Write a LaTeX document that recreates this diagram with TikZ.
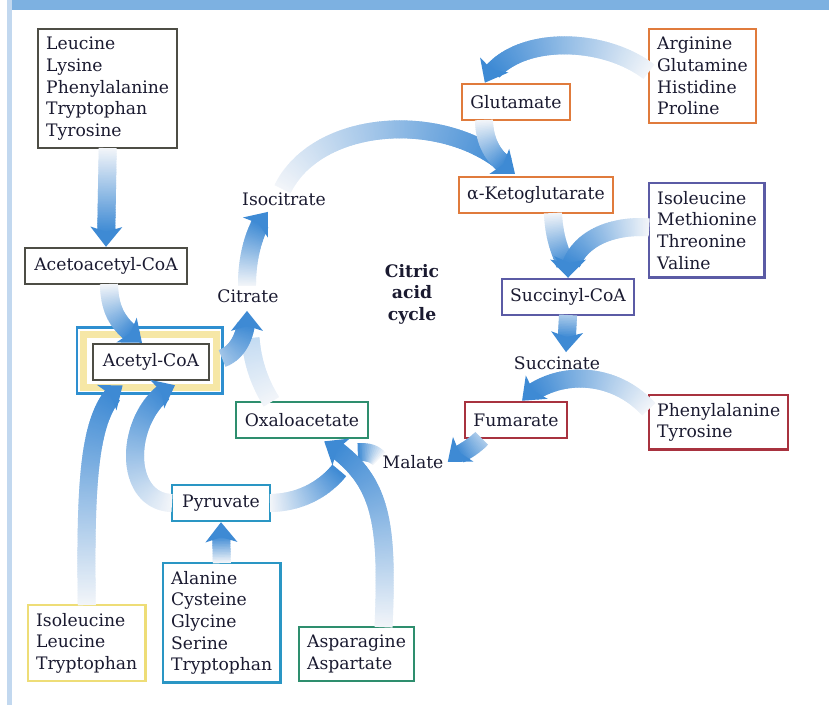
\documentclass[tikz,border=0pt]{standalone}
\usepackage{fontspec}
\setmainfont{DejaVu Serif}
\usetikzlibrary{calc,decorations.markings,backgrounds}

\definecolor{barblue}{HTML}{7DB1E1}
\definecolor{stripblue}{HTML}{C2D8EF}
\definecolor{flowblue}{HTML}{3E8AD4}
\definecolor{flowpale}{HTML}{F2F5F9}
\colorlet{cyclepale}{flowblue!30}
\definecolor{txtdark}{HTML}{1A1A30}
\definecolor{boxgray}{HTML}{4D4D45}
\definecolor{boxyellow}{HTML}{EEDD77}
\definecolor{boxcyan}{HTML}{2A96C4}
\definecolor{boxgreen}{HTML}{2E8E6E}
\definecolor{boxred}{HTML}{A8323F}
\definecolor{boxpurple}{HTML}{5B5BA5}
\definecolor{boxorange}{HTML}{E07B3C}
\definecolor{ringyellow}{HTML}{F6E7A6}
\definecolor{acetylblue}{HTML}{2E8FD0}

\newcommand\boxfont{\fontsize{8.6}{10.8}\selectfont}

\tikzset{
  box/.style={draw=#1, line width=1.2pt, fill=white, inner xsep=4pt, inner ysep=4pt,
    font=\boxfont, text=txtdark, minimum height=18pt},
  listbox/.style={box=#1, align=left, anchor=north west},
  tag/.style={font=\boxfont, text=txtdark, inner sep=1pt},
  flow end/.store in=\flowend, flow end=flowblue,
  band/.style={postaction={decorate}, decoration={markings,
    mark=between positions 0 and -7pt step 0.8pt with {
      \pgfmathsetmacro\flowmix{min(100,#1+(100-#1)*\pgfkeysvalueof{/pgf/decoration/mark info/distance from start}/(\pgfdecoratedpathlength-7))}
      \fill[\flowend!\flowmix!flowpale] (-0.6pt,-4.5pt) rectangle (0.6pt,4.5pt);}}},
  band/.default=0,
  flow/.style={band=#1, decoration={markings,
    mark=at position 1 with {\fill[\flowend] (-10pt,-8pt) -- (0pt,0pt) -- (-10pt,8pt) -- (-7.5pt,0pt) -- (-10pt,-8pt);}}},
  flow/.default=0
}

\begin{document}
\begin{tikzpicture}[x=0.5pt,y=-0.5pt]
\useasboundingbox (0,0) rectangle (829,705);
% frame
\fill[barblue] (12,0) rectangle (829,10);
\fill[stripblue] (7,0) rectangle (12,705);

% amino acids
\node[listbox=boxgray] (leu) at (37,28) {Leucine\\Lysine\\Phenylalanine\\Tryptophan\\Tyrosine};
\node[listbox=boxyellow] (ile1) at (27,604) {Isoleucine\\Leucine\\Tryptophan};
\node[listbox=boxcyan] (ala) at (162,562) {Alanine\\Cysteine\\Glycine\\Serine\\Tryptophan};
\node[listbox=boxgreen] (asn) at (298,626) {Asparagine\\Aspartate};
\node[listbox=boxred] (phe) at (648,394) {Phenylalanine\\Tyrosine};
\node[listbox=boxpurple] (ile2) at (648,182) {Isoleucine\\Methionine\\Threonine\\Valine};
\node[listbox=boxorange] (arg) at (648,28) {Arginine\\Glutamine\\Histidine\\Proline};

% intermediates
\node[box=boxgray, minimum width=81pt] (acac) at (106,266) {Acetoacetyl-CoA};
\node[box=boxgray, minimum width=58pt] (acetyl) at (151,362) {Acetyl-CoA};
\node[box=boxcyan, minimum width=49pt] (pyr) at (221,503) {Pyruvate};
\node[box=boxgreen, minimum width=66pt] (oaa) at (302,420) {Oxaloacetate};
\node[box=boxred, minimum width=51pt] (fum) at (516,420) {Fumarate};
\node[box=boxpurple, minimum width=66pt] (succoa) at (568,297) {Succinyl-CoA};
\node[box=boxorange, minimum width=76pt] (akg) at (536,195) {α-Ketoglutarate};
\node[box=boxorange, minimum width=54pt] (glu) at (516,102) {Glutamate};

% cycle labels
\node[tag] (citrate) at (248,296) {Citrate};
\node[tag] (isocit) at (284,199) {Isocitrate};
\node[tag] (succinate) at (557,363) {Succinate};
\node[tag] (malate) at (413,462) {Malate};
\node[tag, font=\boxfont\bfseries, align=center] (cac) at (412,294) {Citric\\acid\\cycle};

% ring round acetyl-CoA
\begin{scope}[on background layer]
\draw[acetylblue, line width=1.3pt, fill=white] ($(acetyl.north west)+(-15,-15)$) rectangle ($(acetyl.south east)+(12,12)$);
\draw[ringyellow, line width=3.5pt] ($(acetyl.north west)+(-8,-8)$) rectangle ($(acetyl.south east)+(6,6)$);
\end{scope}

% into acetyl-CoA
\path[flow] (leu.south) -- (acac.north);
\path[flow] ($(acac.south)+(3,0)$) .. controls (110,318) and (124,328) .. ($(acetyl.north)+(-9,0)$);
\path[flow] (ile1.north) .. controls (85,470) and (90,410) .. ($(acetyl.south)+(-28,4)$);
\path[flow] (pyr.west) .. controls (120,500) and (125,410) .. ($(acetyl.south)+(24,4)$);
\path[flow] (ala.north) -- (pyr.south);

% cycle
\path[band, flow end=cyclepale] ($(oaa.north west)+(36,0)$) .. controls (255,375) and (250,350) .. ($(citrate.south)+(2,20)$);
\path[flow=45] ($(acetyl.east)+(13,-4)$) .. controls (238,352) and (247,335) .. ($(citrate.south)+(-1,6)$);
\path[flow] ($(citrate.north)+(-1,-2)$) .. controls (247,255) and (255,228) .. ($(isocit.south)+(-16,4)$);
\path[flow] ($(isocit.north)+(-1,-2)$) .. controls (320,115) and (455,110) .. ($(akg.north)+(-21,-2)$);
\path[flow] ($(glu.south)+(-32,0)$) .. controls (485,150) and (500,162) .. ($(akg.north)+(-21,-2)$);
\path[flow] ($(arg.west)+(0,-5)$) .. controls (600,35) and (510,35) .. ($(glu.north west)+(24,0)$);
\path[flow] ($(akg.south)+(17,0)$) .. controls (555,250) and (566,258) .. (succoa.north);
\path[flow] ($(ile2.west)+(0,-3)$) .. controls (610,225) and (572,240) .. (succoa.north);
\path[flow=40] (succoa.south) -- ($(succinate.north)+(9,-2)$);
\path[flow] ($(phe.west)+(0,-14)$) .. controls (612,370) and (555,370) .. ($(fum.north)+(6,0)$);
\path[flow=40] ($(fum.south west)+(17,0)$) .. controls (470,450) and (455,456) .. ($(malate.east)+(2,0)$);
\path[band] ($(malate.west)+(-2,-4)$) .. controls (370,450) and (360,452) .. ($(oaa.south)+(42,14)$);
\path[band] (pyr.east) .. controls (310,502) and (335,480) .. ($(oaa.south)+(45,20)$);
\path[flow] ($(asn.north)+(27,0)$) .. controls (388,520) and (382,478) .. ($(oaa.south)+(22,2)$);
\end{tikzpicture}
\end{document}
